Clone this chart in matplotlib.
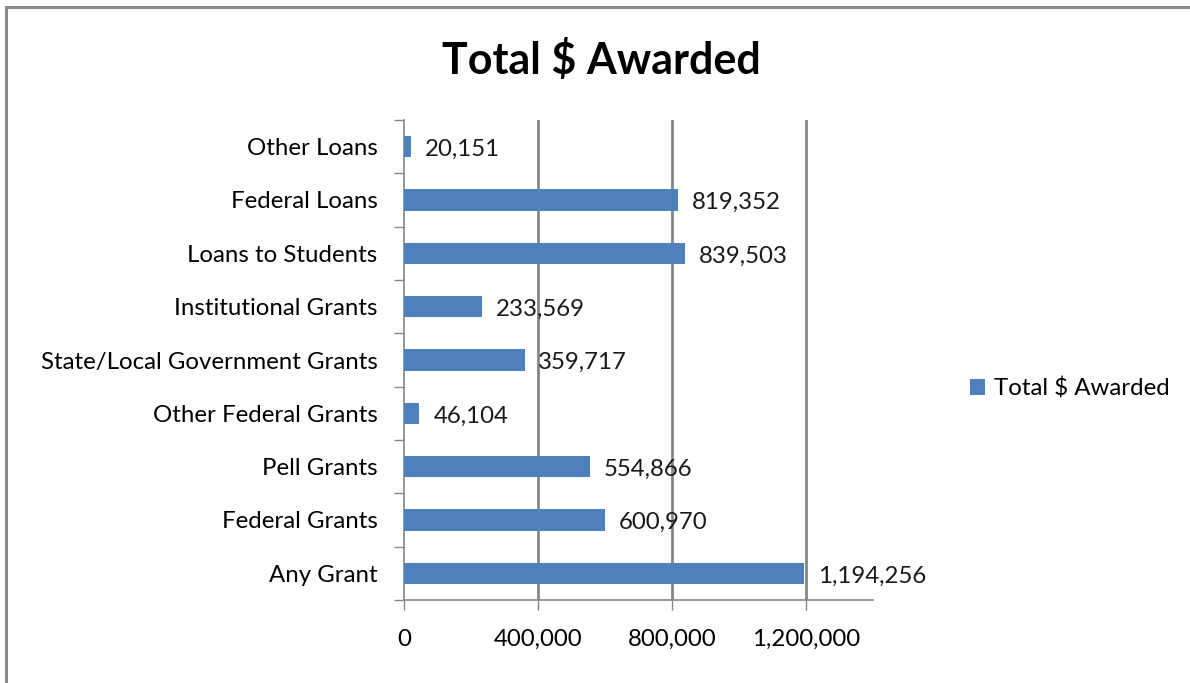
import matplotlib.pyplot as plt
from matplotlib.patches import Rectangle

categories = ['Any Grant', 'Federal Grants', 'Pell Grants', 'Other Federal Grants',
              'State/Local Government Grants', 'Institutional Grants',
              'Loans to Students', 'Federal Loans', 'Other Loans']
awarded = [1194256, 600970, 554866, 46104, 359717, 233569, 839503, 819352, 20151]
xticks = [0, 400000, 800000, 1200000]

plt.rcParams['font.family'] = ['Lato', 'DejaVu Sans']

W, H = 1190, 683
fig = plt.figure(figsize=(W / 100, H / 100), dpi=100)

# chart border (cropped at right / bottom like the screenshot)
fig.patches.append(Rectangle((6 / W, -0.05), 1.2, 1 - 7 / H + 0.05,
                             transform=fig.transFigure, fill=False,
                             edgecolor='#8c8c8c', linewidth=2.2))

ax = fig.add_axes([404 / W, 1 - 600 / H, (873 - 404) / W, (600 - 120) / H])

blue = '#4f81bd'
fs = 17.3
ypos = list(range(len(categories)))
bars = ax.barh(ypos, awarded, height=0.4, color=blue, label='Total $ Awarded', zorder=3)

ax.set_xlim(0, 1400000)
ax.set_ylim(-0.5, len(categories) - 0.5)

ax.set_xticks(xticks)
ax.set_xticklabels(['{:,}'.format(v) for v in xticks], fontsize=fs)
ax.set_yticks(ypos)
ax.set_yticklabels(categories, fontsize=fs)
ax.tick_params(axis='y', length=0, pad=19)
ax.tick_params(axis='x', length=7, width=1, color='#868686', pad=14, direction='out')

# category boundary ticks on y axis
ax.set_yticks([i - 0.5 for i in range(len(categories) + 1)], minor=True)
ax.tick_params(axis='y', which='minor', length=7, width=1, color='#868686', direction='out')

for s in ['top', 'right']:
    ax.spines[s].set_visible(False)
for s in ['left', 'bottom']:
    ax.spines[s].set_color('#868686')
    ax.spines[s].set_linewidth(1.2)

for v in xticks[1:]:
    ax.axvline(v, color='#868686', linewidth=2, zorder=1)

for y, v in zip(ypos, awarded):
    ax.annotate('{:,}'.format(v), (v, y), xytext=(10, -2), textcoords='offset points',
                va='center', ha='left', fontsize=fs, color='#1a1a1a', zorder=4)

fig.text(601 / W, 1 - 60 / H, 'Total $ Awarded', ha='center', va='center',
         fontsize=31, fontweight='bold')

fig.legend(handles=[bars], labels=['Total $ Awarded'], loc='center left',
           bbox_to_anchor=(948 / W, 1 - 388 / H), frameon=False, fontsize=fs,
           handlelength=0.65, handleheight=0.65, handletextpad=0.35)

fig.savefig('out.png', dpi=100)
